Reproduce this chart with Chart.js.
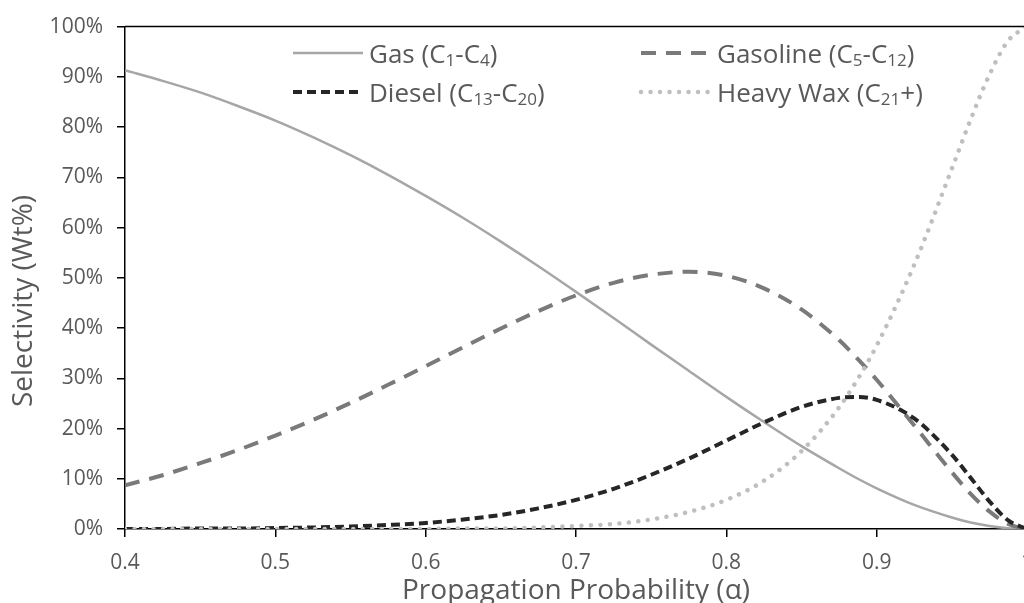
<!DOCTYPE html>
<html>
<head>
<meta charset="utf-8">
<script src="https://cdn.jsdelivr.net/npm/chart.js@4.4.1/dist/chart.umd.min.js"></script>
<style>
  html, body { margin: 0; padding: 0; background: #fff; overflow: hidden; width: 1024px; height: 603px; }
  #wrap { position: absolute; left: 0; top: 0; width: 1060px; height: 603px; }
</style>
</head>
<body>
<div id="wrap"><canvas id="c" width="1060" height="603"></canvas></div>
<script>
// Chain growth probability (alpha) and product selectivity in weight percent
const alpha = [0.4, 0.425, 0.45, 0.475, 0.5, 0.525, 0.55, 0.575, 0.6, 0.625, 0.65, 0.675, 0.7,
  0.725, 0.75, 0.775, 0.8, 0.825, 0.85, 0.875, 0.8875, 0.9, 0.925, 0.95, 0.9625, 0.975, 0.9875, 1.0];

const gas = [91.3, 89.2, 86.9, 84.2, 81.3, 78.0, 74.4, 70.5, 66.3, 61.9, 57.2, 52.3, 47.2,
  42.0, 36.7, 31.5, 26.3, 21.3, 16.5, 12.1, 10.0, 8.1, 4.8, 2.3, 1.3, 0.6, 0.15, 0];

const gasoline = [8.7, 10.7, 13.1, 15.7, 18.6, 21.7, 25.1, 28.7, 32.4, 36.2, 39.9, 43.4, 46.5,
  49.0, 50.6, 51.2, 50.4, 47.9, 43.7, 37.6, 33.8, 29.7, 20.6, 11.3, 7.0, 3.5, 1.0, 0];

const diesel = [0.0, 0.0, 0.1, 0.1, 0.2, 0.3, 0.5, 0.8, 1.2, 1.9, 2.8, 4.1, 5.8,
  8.0, 10.8, 14.0, 17.6, 21.2, 24.3, 26.1, 26.3, 25.7, 22.0, 14.8, 10.2, 5.5, 1.7, 0];

const heavyWax = [0, 0, 0, 0, 0, 0, 0, 0, 0, 0.1, 0.1, 0.3, 0.6,
  1.0, 1.9, 3.4, 5.8, 9.6, 15.5, 24.2, 29.9, 36.5, 52.6, 71.7, 81.5, 90.4, 97.2, 100];

// Series names; "_n" marks a subscript
const seriesNames = ['Gas (C_1-C_4)', 'Gasoline (C_5-C_12)', 'Diesel (C_13-C_20)', 'Heavy Wax (C_21+)'];

const xTicks = [0.4, 0.5, 0.6, 0.7, 0.8, 0.9, 1.0];
const yTicks = [0, 10, 20, 30, 40, 50, 60, 70, 80, 90, 100];

const xTitle = 'Propagation Probability (\u03B1)';
const yTitle = 'Selectivity (Wt%)';

const FONT = '"Open Sans", "DejaVu Sans", sans-serif';
const TEXT = '#595959';

const styles = [
  { color: '#a6a6a6', width: 2.5, dash: [], cap: 'butt' },
  { color: '#7a7a7a', width: 4, dash: [15, 10], cap: 'butt' },
  { color: '#262626', width: 4, dash: [9, 5], cap: 'butt' },
  { color: '#bfbfbf', width: 4.5, dash: [0.01, 9.5], cap: 'round' }
];

const seriesValues = [gas, gasoline, diesel, heavyWax];

const datasets = seriesValues.map((vals, i) => ({
  label: seriesNames[i],
  data: alpha.map((a, k) => ({ x: a, y: vals[k] })),
  borderColor: styles[i].color,
  borderWidth: styles[i].width,
  borderDash: styles[i].dash,
  borderCapStyle: styles[i].cap,
  pointRadius: 0,
  fill: false,
  cubicInterpolationMode: 'monotone',
  order: 3 - i
}));

// Text with subscripts written as "_digits"
function drawRich(ctx, text, x, y, size) {
  const parts = text.split(/(_\d+)/).filter(Boolean);
  for (const p of parts) {
    if (p[0] === '_') {
      const s = p.slice(1);
      ctx.font = Math.round(size * 0.66) + 'px ' + FONT;
      ctx.fillText(s, x, y + size * 0.12);
      x += ctx.measureText(s).width;
    } else {
      ctx.font = size + 'px ' + FONT;
      ctx.fillText(p, x, y);
      x += ctx.measureText(p).width;
    }
  }
}

const decorations = {
  id: 'decorations',
  afterDraw(chart) {
    const ctx = chart.ctx;
    const ca = chart.chartArea;
    ctx.save();
    // frame on top and right
    ctx.strokeStyle = '#000';
    ctx.lineWidth = 1.5;
    ctx.setLineDash([]);
    ctx.beginPath();
    ctx.moveTo(ca.left, ca.top);
    ctx.lineTo(ca.right, ca.top);
    ctx.lineTo(ca.right, ca.bottom);
    ctx.stroke();

    // vertical axis title
    ctx.fillStyle = TEXT;
    ctx.font = '28px ' + FONT;
    ctx.textAlign = 'center';
    ctx.textBaseline = 'middle';
    ctx.translate(24, 301);
    ctx.rotate(-Math.PI / 2);
    ctx.fillText(yTitle, 0, 0);
    ctx.restore();

    // legend, two columns by two rows
    const cols = [293, 641];
    const rows = [53, 92];
    ctx.save();
    chart.data.datasets.forEach((ds, i) => {
      const x = cols[i % 2];
      const y = rows[Math.floor(i / 2)];
      ctx.strokeStyle = ds.borderColor;
      ctx.lineWidth = ds.borderWidth;
      ctx.setLineDash(ds.borderDash);
      ctx.lineCap = ds.borderCapStyle;
      ctx.beginPath();
      ctx.moveTo(x, y);
      ctx.lineTo(x + 70, y);
      ctx.stroke();
      ctx.setLineDash([]);
      ctx.fillStyle = TEXT;
      ctx.textAlign = 'left';
      ctx.textBaseline = 'alphabetic';
      drawRich(ctx, ds.label, x + 76, y + 10, 26);
    });
    ctx.restore();
  }
};

new Chart(document.getElementById('c'), {
  type: 'line',
  data: { datasets },
  plugins: [decorations],
  options: {
    responsive: false,
    animation: false,
    layout: { padding: { top: 23, right: 33, left: 0, bottom: 0 } },
    plugins: { legend: { display: false }, tooltip: { enabled: false }, title: { display: false } },
    scales: {
      x: {
        type: 'linear',
        min: 0.4,
        max: 1.0,
        afterBuildTicks: (s) => { s.ticks = xTicks.map(v => ({ value: v })); },
        afterFit: (s) => { s.height = 74; },
        ticks: {
          color: TEXT,
          font: { family: FONT, size: 21 },
          padding: 13,
          maxRotation: 0,
          callback: (v) => String(Number(v.toFixed(1)))
        },
        grid: { display: true, drawOnChartArea: false, drawTicks: true, tickLength: 8, color: '#000', lineWidth: 1.5 },
        border: { display: true, color: '#000', width: 1.5 },
        title: {
          display: true,
          text: xTitle,
          color: TEXT,
          font: { family: FONT, size: 28, lineHeight: 1 },
          padding: { top: 0, bottom: -2 }
        }
      },
      y: {
        min: 0,
        max: 100,
        afterBuildTicks: (s) => { s.ticks = yTicks.map(v => ({ value: v })); },
        afterFit: (s) => { s.width = 125; },
        ticks: {
          color: TEXT,
          font: { family: FONT, size: 21 },
          padding: 14,
          callback: (v) => v + '%'
        },
        grid: { display: true, drawOnChartArea: false, drawTicks: true, tickLength: 8, color: '#000', lineWidth: 1.5 },
        border: { display: true, color: '#000', width: 1.5 }
      }
    }
  }
});
</script>
</body>
</html>
